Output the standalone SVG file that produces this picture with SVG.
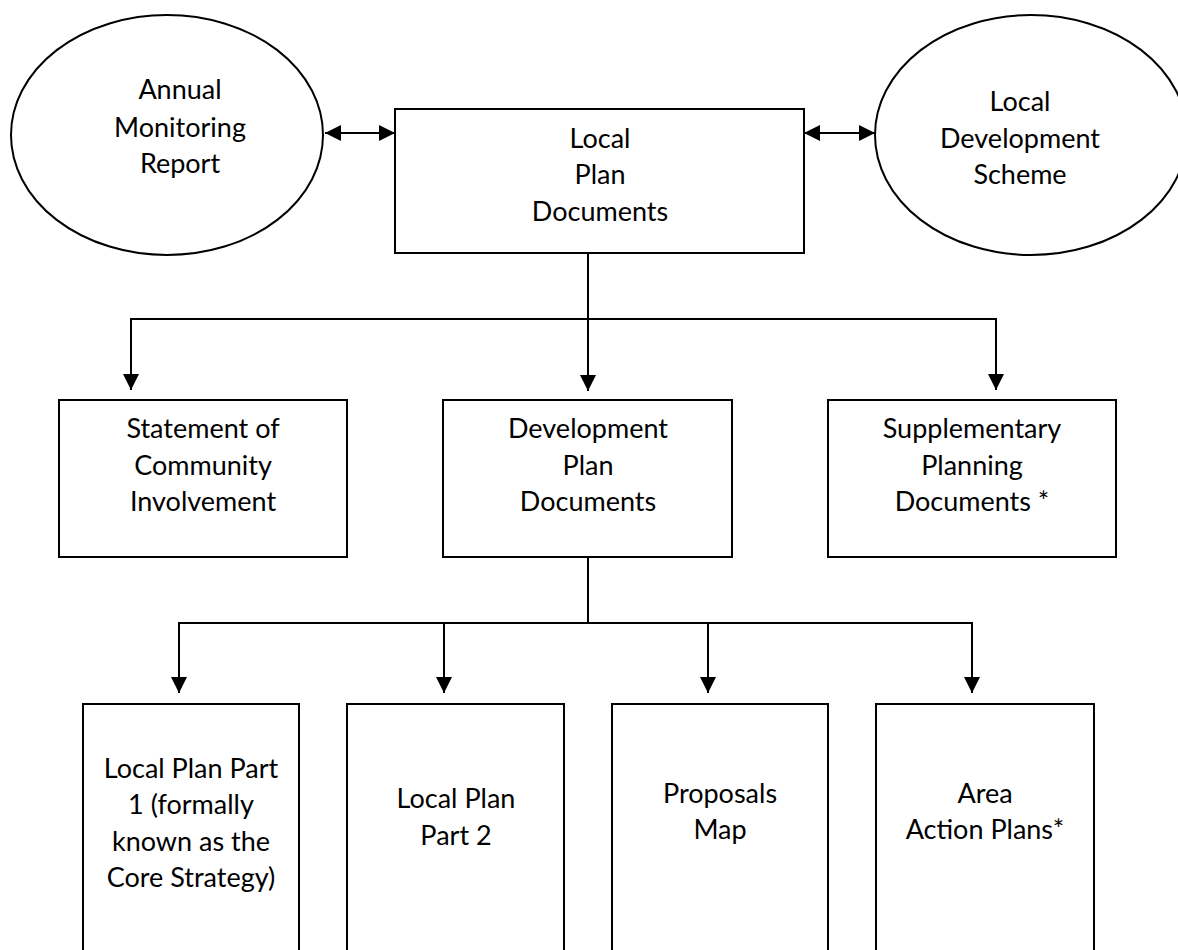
<svg xmlns="http://www.w3.org/2000/svg" width="1178" height="950" viewBox="0 0 1178 950">
<style>
.shape{fill:#fff;stroke:#000;stroke-width:2}
.conn{fill:none;stroke:#000;stroke-width:2}
text{font-family:Lato,"Liberation Sans",sans-serif;font-size:27px;fill:#000;text-anchor:middle}
</style>
<defs>
<marker id="ah" markerUnits="userSpaceOnUse" markerWidth="16" markerHeight="16" viewBox="0 0 15 15" refX="15" refY="7.5" orient="auto-start-reverse">
<path d="M0,0 L15,7.5 L0,15 Z" fill="#000"/>
</marker>
</defs>
<rect width="1178" height="950" fill="#fff"/>
<g id="connectors">
<line class="conn" x1="325" y1="133" x2="395" y2="133" marker-start="url(#ah)" marker-end="url(#ah)"/>
<line class="conn" x1="804" y1="133" x2="875" y2="133" marker-start="url(#ah)" marker-end="url(#ah)"/>
<line class="conn" x1="588" y1="249" x2="588" y2="391" marker-end="url(#ah)"/>
<polyline class="conn" points="131,390 131,319 996,319 996,390" marker-start="url(#ah)" marker-end="url(#ah)"/>
<line class="conn" x1="588" y1="553" x2="588" y2="624"/>
<polyline class="conn" points="179,693 179,623 972,623 972,693" marker-start="url(#ah)" marker-end="url(#ah)"/>
<line class="conn" x1="444" y1="623" x2="444" y2="693" marker-end="url(#ah)"/>
<line class="conn" x1="708" y1="623" x2="708" y2="693" marker-end="url(#ah)"/>
</g>
<g id="amr">
<ellipse class="shape" cx="167" cy="135" rx="156" ry="120"/>
<text x="180" y="99">Annual</text>
<text x="180" y="136.5">Monitoring</text>
<text x="180" y="173">Report</text>
</g>
<g id="lpd">
<rect class="shape" x="395" y="109" width="409" height="144"/>
<text x="600" y="148">Local</text>
<text x="600" y="184">Plan</text>
<text x="600" y="220.5">Documents</text>
</g>
<g id="lds">
<ellipse class="shape" cx="1031" cy="135" rx="156" ry="120"/>
<text x="1020" y="111">Local</text>
<text x="1020" y="147.5">Development</text>
<text x="1020" y="184">Scheme</text>
</g>
<g id="sci">
<rect class="shape" x="59" y="400" width="288" height="157"/>
<text x="203" y="438">Statement of</text>
<text x="203" y="474.5">Community</text>
<text x="203" y="511">Involvement</text>
</g>
<g id="dpd">
<rect class="shape" x="443" y="400" width="289" height="157"/>
<text x="588" y="438">Development</text>
<text x="588" y="474.5">Plan</text>
<text x="588" y="511">Documents</text>
</g>
<g id="spd">
<rect class="shape" x="828" y="400" width="288" height="157"/>
<text x="972" y="438">Supplementary</text>
<text x="972" y="474.5">Planning</text>
<text x="972" y="511">Documents *</text>
</g>
<g id="lpp1">
<rect class="shape" x="83" y="704" width="216" height="270"/>
<text x="191" y="777.5">Local Plan Part</text>
<text x="191" y="814">1 (formally</text>
<text x="191" y="850.5">known as the</text>
<text x="191" y="887">Core Strategy)</text>
</g>
<g id="lpp2">
<rect class="shape" x="347" y="704" width="217" height="270"/>
<text x="456" y="808">Local Plan</text>
<text x="456" y="844.5">Part 2</text>
</g>
<g id="pm">
<rect class="shape" x="612" y="704" width="216" height="270"/>
<text x="720" y="802.5">Proposals</text>
<text x="720" y="839">Map</text>
</g>
<g id="aap">
<rect class="shape" x="876" y="704" width="218" height="270"/>
<text x="985" y="802.5">Area</text>
<text x="985" y="839">Action Plans*</text>
</g>
</svg>
